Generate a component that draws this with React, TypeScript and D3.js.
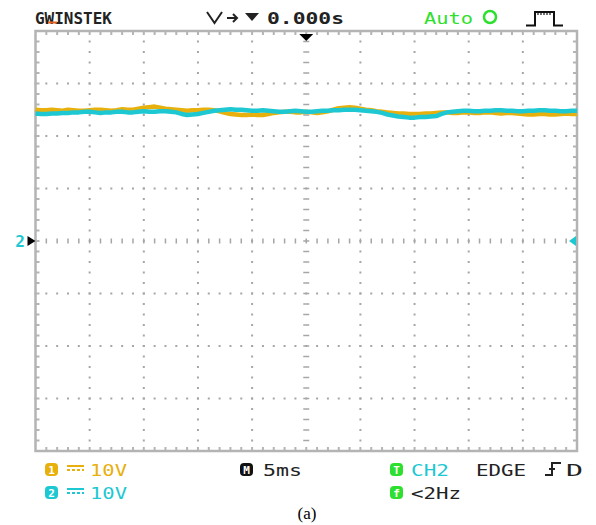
import React from "react";
import * as d3 from "d3";

// Screen: 10 horizontal divisions at 5 ms/div, 8 vertical divisions at 10 V/div
const timeMs: number[] = d3.range(-25, 25.001, 0.5);

// CH1 (yellow), volts, sampled every 0.5 ms
const ch1Volts: number[] = [
  25.0, 24.9, 24.9, 25.0, 24.9, 24.8, 25.0, 24.9, 24.8, 24.8,
  24.9, 25.0, 25.0, 24.9, 24.8, 24.9, 25.1, 25.0, 25.0, 25.2,
  25.4, 25.5, 25.6, 25.4, 25.2, 25.1, 25.0, 24.9, 24.8, 24.9,
  24.9, 25.0, 25.0, 24.9, 24.7, 24.4, 24.2, 24.1, 24.0, 24.0,
  24.1, 24.0, 24.0, 24.2, 24.4, 24.5, 24.6, 24.6, 24.5, 24.5,
  24.6, 24.5, 24.4, 24.5, 24.7, 25.0, 25.3, 25.4, 25.5, 25.4,
  25.2, 25.0, 24.9, 24.7, 24.6, 24.5, 24.4, 24.3, 24.3, 24.2,
  24.2, 24.2, 24.3, 24.3, 24.4, 24.5, 24.5, 24.4, 24.4, 24.5,
  24.5, 24.4, 24.4, 24.5, 24.5, 24.4, 24.3, 24.4, 24.4, 24.3,
  24.2, 24.1, 24.1, 24.2, 24.2, 24.1, 24.1, 24.2, 24.3, 24.2,
  24.2,
];

// CH2 (cyan), volts, sampled every 0.5 ms
const ch2Volts: number[] = [
  24.3, 24.2, 24.2, 24.3, 24.3, 24.4, 24.4, 24.5, 24.5, 24.6,
  24.6, 24.5, 24.4, 24.5, 24.5, 24.6, 24.6, 24.5, 24.5, 24.6,
  24.7, 24.6, 24.6, 24.7, 24.7, 24.6, 24.5, 24.2, 24.0, 24.1,
  24.2, 24.4, 24.6, 24.8, 24.9, 25.0, 25.1, 25.0, 25.0, 24.9,
  24.8, 24.8, 24.9, 24.8, 24.7, 24.6, 24.6, 24.7, 24.8, 24.7,
  24.6, 24.6, 24.7, 24.8, 24.8, 24.9, 24.9, 25.0, 25.0, 25.0,
  24.9, 24.8, 24.7, 24.6, 24.4, 24.1, 23.9, 23.7, 23.6, 23.5,
  23.5, 23.6, 23.6, 23.7, 23.8, 24.2, 24.5, 24.6, 24.7, 24.8,
  24.8, 24.7, 24.7, 24.8, 24.8, 24.9, 24.9, 24.8, 24.8, 24.7,
  24.7, 24.8, 24.8, 24.9, 24.9, 24.8, 24.8, 24.7, 24.7, 24.8,
  24.8,
];

const timeDivTicks: number[] = d3.range(-25, 26, 5);
const voltDivTicks: number[] = d3.range(-40, 41, 10);

const YELLOW = "#e8b00c";
const CYAN = "#1ec8d2";
const GREEN = "#2ee02e";
const GRID = "#a6a6a6";
const FRAME = "#b4b4b4";
const MONO = "'DejaVu Sans Mono', monospace";

const x = d3.scaleLinear().domain([-25, 25]).range([35.5, 577]);
const y = d3.scaleLinear().domain([-40, 40]).range([451, 31]);

const minorT = d3.range(-25, 25.001, 1); // 1/5 of a 5 ms division
const minorV = d3.range(-40, 40.001, 2); // 1/5 of a 10 V division

function Badge({ x0, y0, fill, label }: { x0: number; y0: number; fill: string; label: string }) {
  return (
    <g>
      <rect x={x0} y={y0} width={13} height={13} rx={4} fill={fill} />
      <text x={x0 + 6.5} y={y0 + 10.5} textAnchor="middle" fontFamily={MONO} fontWeight="bold" fontSize={11} fill="#fff">
        {label}
      </text>
    </g>
  );
}

function DcSymbol({ x0, yy, color }: { x0: number; yy: number; color: string }) {
  return (
    <g stroke={color} strokeWidth={2}>
      <line x1={x0} x2={x0 + 17} y1={yy} y2={yy} />
      <line x1={x0} x2={x0 + 17} y1={yy + 4} y2={yy + 4} strokeDasharray="3 2" />
    </g>
  );
}

export default function App() {
  const line = d3
    .line<number>()
    .x((_, i) => x(timeMs[i]))
    .y((v) => y(v))
    .curve(d3.curveLinear);

  const [x0, x1] = x.range();
  const [yb, yt] = y.range();
  const xc = x(0);
  const yc = y(0);

  return (
    <svg width={596} height={525} style={{ position: "absolute", left: 0, top: 0, background: "#fff" }}>
      {/* dotted grid */}
      <g fill={GRID}>
        {timeDivTicks.slice(1, -1).filter((t) => t !== 0).map((t) =>
          minorV.map((v) => (
            <rect key={`v${t}_${v}`} x={x(t) - 1} y={y(v) - 1} width={2} height={2} />
          ))
        )}
        {voltDivTicks.slice(1, -1).filter((v) => v !== 0).map((v) =>
          minorT.map((t) => (
            <rect key={`h${v}_${t}`} x={x(t) - 1} y={y(v) - 1} width={2} height={2} />
          ))
        )}
        {/* centre axes with small cross ticks */}
        {minorV.map((v) => (
          <rect key={`cv${v}`} x={xc - 3} y={y(v) - 0.75} width={6} height={1.5} />
        ))}
        {minorT.map((t) => (
          <rect key={`ch${t}`} x={x(t) - 0.75} y={yc - 2.5} width={1.5} height={5} />
        ))}
      </g>

      {/* frame with edge ticks */}
      <rect x={x0} y={yt} width={x1 - x0} height={yb - yt} fill="none" stroke={FRAME} strokeWidth={2.5} />
      <g stroke={FRAME} strokeWidth={2}>
        {minorT.slice(1).map((t) => (
          <g key={`ft${t}`}>
            <line x1={x(t)} x2={x(t)} y1={yt} y2={yt + 4} />
            <line x1={x(t)} x2={x(t)} y1={yb} y2={yb - 4} />
          </g>
        ))}
        {minorV.slice(1).map((v) => (
          <g key={`fv${v}`}>
            <line x1={x0} x2={x0 + 4} y1={y(v)} y2={y(v)} />
            <line x1={x1} x2={x1 - 4} y1={y(v)} y2={y(v)} />
          </g>
        ))}
      </g>

      {/* traces */}
      <path d={line(ch1Volts) ?? ""} fill="none" stroke={YELLOW} strokeWidth={4.5} strokeLinejoin="round" />
      <path d={line(ch2Volts) ?? ""} fill="none" stroke={CYAN} strokeWidth={4.5} strokeLinejoin="round" />

      {/* trigger position marker */}
      <path d={`M${xc - 7},${yt + 3} L${xc + 7},${yt + 3} L${xc},${yt + 10} Z`} fill="#000" />
      {/* channel ground markers */}
      <text x={20} y={yc + 5.5} textAnchor="middle" fontFamily={MONO} fontWeight="bold" fontSize={16} fill={CYAN}>2</text>
      <path d={`M${x0 - 8},${yc - 5} L${x0},${yc} L${x0 - 8},${yc + 5} Z`} fill="#000" />
      {/* trigger level marker */}
      <path d={`M${x1 - 1},${yc - 5} L${x1 - 8},${yc} L${x1 - 1},${yc + 5} Z`} fill={CYAN} />

      {/* header */}
      <text x={35} y={24} fontFamily={MONO} fontWeight="bold" fontSize={15} textLength={77} lengthAdjust="spacingAndGlyphs" fill="#222">GWINSTEK</text>
      <line x1={48} x2={57} y1={22.5} y2={22.5} stroke="#e8601c" strokeWidth={2} />
      <path d="M207,12 L214.5,23 L222,12" fill="none" stroke="#222" strokeWidth={2} />
      <path d="M227,18 L237,18 M233,14 L237,18 L233,22" fill="none" stroke="#222" strokeWidth={2} />
      <path d="M245,13 L259,13 L252,21 Z" fill="#222" />
      <text x={267} y={24} fontFamily={MONO} fontWeight="bold" fontSize={16} textLength={77} lengthAdjust="spacingAndGlyphs" fill="#222">0.000s</text>
      <text x={424} y={24} fontFamily={MONO} fontSize={16} textLength={49} lengthAdjust="spacingAndGlyphs" fill={GREEN}>Auto</text>
      <circle cx={490} cy={17} r={6} fill="none" stroke={GREEN} strokeWidth={2.5} />
      <path d="M526,25.5 L535,25.5 L535,12 L554,12 L554,25.5 L563,25.5" fill="none" stroke="#111" strokeWidth={2} />
      <path d="M538,12 L538,15 M541,12 L541,15 M544,12 L544,15 M547,12 L547,15 M550,12 L550,15" stroke="#111" strokeWidth={1.2} />

      {/* footer row 1 */}
      <Badge x0={45} y0={463} fill={YELLOW} label="1" />
      <DcSymbol x0={67} yy={466} color={YELLOW} />
      <text x={90} y={476} fontFamily={MONO} fontSize={16} textLength={37} lengthAdjust="spacingAndGlyphs" fill={YELLOW}>10V</text>
      <Badge x0={240} y0={463} fill="#111" label="M" />
      <text x={263} y={476} fontFamily={MONO} fontSize={16} textLength={39} lengthAdjust="spacingAndGlyphs" fill="#222">5ms</text>
      <Badge x0={390} y0={463} fill={GREEN} label="T" />
      <text x={411} y={476} fontFamily={MONO} fontSize={16} textLength={38} lengthAdjust="spacingAndGlyphs" fill={CYAN}>CH2</text>
      <text x={476} y={476} fontFamily={MONO} fontSize={16} textLength={50} lengthAdjust="spacingAndGlyphs" fill="#222">EDGE</text>
      <path d="M545,475 L552,475 L552,463 L561,463 M549,469 L555,469" fill="none" stroke="#222" strokeWidth={2} />
      <text x={566} y={476} fontFamily={MONO} fontSize={16} textLength={17} lengthAdjust="spacingAndGlyphs" fill="#222">D</text>

      {/* footer row 2 */}
      <Badge x0={45} y0={486} fill={CYAN} label="2" />
      <DcSymbol x0={67} yy={489} color={CYAN} />
      <text x={90} y={499} fontFamily={MONO} fontSize={16} textLength={37} lengthAdjust="spacingAndGlyphs" fill={CYAN}>10V</text>
      <Badge x0={390} y0={486} fill={GREEN} label="f" />
      <text x={411} y={499} fontFamily={MONO} fontSize={16} textLength={50} lengthAdjust="spacingAndGlyphs" fill="#222">&lt;2Hz</text>

      {/* caption */}
      <text x={307} y={519} textAnchor="middle" fontFamily="'Liberation Serif', serif" fontSize={17} fill="#000">(a)</text>
    </svg>
  );
}
